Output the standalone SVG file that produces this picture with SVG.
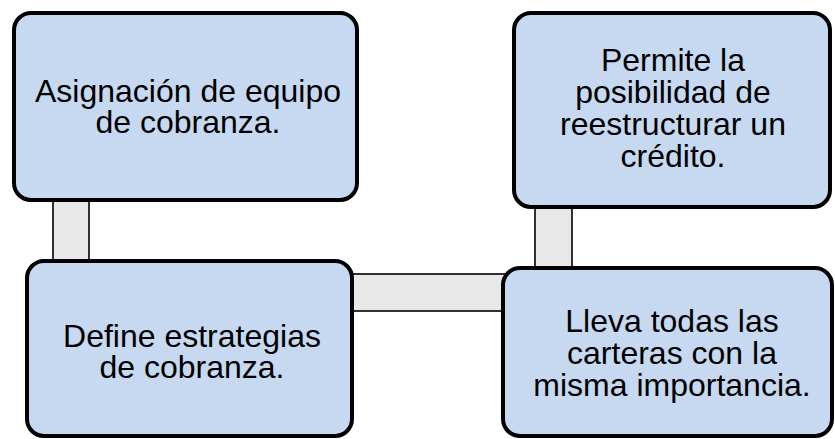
<svg xmlns="http://www.w3.org/2000/svg" width="835" height="439" viewBox="0 0 835 439">
<style>
.box{fill:#c6d9f1;stroke:#000;stroke-width:4}
.conn{fill:#e8e8e8;stroke:#000;stroke-width:1.6}
text{font-family:"Liberation Sans",Arial,sans-serif;font-size:32px;fill:#000;text-anchor:middle}
</style>
<rect width="835" height="439" fill="#fff"/>
<g id="connectors">
<rect class="conn" x="53" y="198" width="36" height="65"/>
<rect class="conn" x="350" y="274" width="155" height="37"/>
<rect class="conn" x="535" y="205" width="37" height="65"/>
</g>
<g id="node1">
<rect class="box" x="14" y="13" width="343" height="187" rx="17"/>
<text x="188" y="102">Asignación de equipo</text>
<text x="188" y="133">de cobranza.</text>
</g>
<g id="node2">
<rect class="box" x="27" y="261" width="325" height="175" rx="17"/>
<text x="192" y="347">Define estrategias</text>
<text x="192" y="378">de cobranza.</text>
</g>
<g id="node3">
<rect class="box" x="514" y="13" width="316" height="194" rx="17"/>
<text x="673" y="71">Permite la</text>
<text x="673" y="103">posibilidad de</text>
<text x="673" y="135">reestructurar un</text>
<text x="673" y="167">crédito.</text>
</g>
<g id="node4">
<rect class="box" x="503" y="268" width="329" height="168" rx="17"/>
<text x="672" y="332">Lleva todas las</text>
<text x="672" y="364">carteras con la</text>
<text x="672" y="396">misma importancia.</text>
</g>
</svg>
